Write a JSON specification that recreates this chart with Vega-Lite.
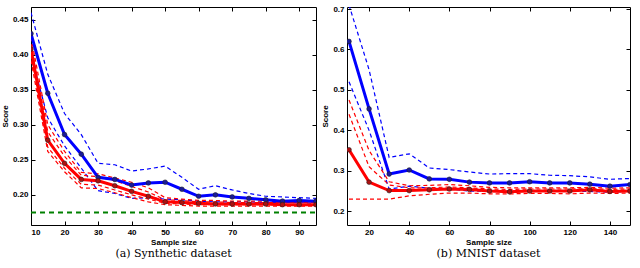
{
  "$schema": "https://vega.github.io/schema/vega-lite/v6.json",
  "padding": {"left": 0, "top": 4, "right": 6, "bottom": 0},
  "background": "white",
  "config": {
    "view": {"stroke": "black", "strokeWidth": 1},
    "axis": {"grid": false, "domain": false, "tickColor": "black", "tickSize": -4, "labelPadding": 7, "labelOverlap": false, "labelFont": "Liberation Sans", "labelFontWeight": "bold", "labelFontSize": 8, "labelColor": "black", "titleFont": "Liberation Sans", "titleFontWeight": "bold", "titleFontSize": 8, "titleColor": "black"},
    "title": {"font": "DejaVu Serif", "fontSize": 11, "fontWeight": "normal", "color": "black", "orient": "bottom", "offset": 2}
  },
  "datasets": {
    "syn": [
      {"s":"bm","x":10,"y":0.430},{"s":"bm","x":15,"y":0.345},{"s":"bm","x":20,"y":0.286},{"s":"bm","x":25,"y":0.258},{"s":"bm","x":30,"y":0.225},{"s":"bm","x":35,"y":0.222},{"s":"bm","x":40,"y":0.214},{"s":"bm","x":45,"y":0.217},{"s":"bm","x":50,"y":0.218},{"s":"bm","x":55,"y":0.208},{"s":"bm","x":60,"y":0.198},{"s":"bm","x":65,"y":0.200},{"s":"bm","x":70,"y":0.197},{"s":"bm","x":75,"y":0.195},{"s":"bm","x":80,"y":0.193},{"s":"bm","x":85,"y":0.191},{"s":"bm","x":90,"y":0.192},{"s":"bm","x":95,"y":0.191},
      {"s":"bh","x":10,"y":0.460},{"s":"bh","x":15,"y":0.372},{"s":"bh","x":20,"y":0.316},{"s":"bh","x":25,"y":0.286},{"s":"bh","x":30,"y":0.245},{"s":"bh","x":35,"y":0.243},{"s":"bh","x":40,"y":0.234},{"s":"bh","x":45,"y":0.237},{"s":"bh","x":50,"y":0.241},{"s":"bh","x":55,"y":0.225},{"s":"bh","x":60,"y":0.208},{"s":"bh","x":65,"y":0.213},{"s":"bh","x":70,"y":0.207},{"s":"bh","x":75,"y":0.202},{"s":"bh","x":80,"y":0.198},{"s":"bh","x":85,"y":0.197},{"s":"bh","x":90,"y":0.196},{"s":"bh","x":95,"y":0.195},
      {"s":"bl","x":10,"y":0.400},{"s":"bl","x":15,"y":0.310},{"s":"bl","x":20,"y":0.270},{"s":"bl","x":25,"y":0.238},{"s":"bl","x":30,"y":0.206},{"s":"bl","x":35,"y":0.202},{"s":"bl","x":40,"y":0.195},{"s":"bl","x":45,"y":0.196},{"s":"bl","x":50,"y":0.194},{"s":"bl","x":55,"y":0.193},{"s":"bl","x":60,"y":0.191},{"s":"bl","x":65,"y":0.190},{"s":"bl","x":70,"y":0.190},{"s":"bl","x":75,"y":0.190},{"s":"bl","x":80,"y":0.189},{"s":"bl","x":85,"y":0.189},{"s":"bl","x":90,"y":0.189},{"s":"bl","x":95,"y":0.188},
      {"s":"rm","x":10,"y":0.408},{"s":"rm","x":15,"y":0.278},{"s":"rm","x":20,"y":0.245},{"s":"rm","x":25,"y":0.222},{"s":"rm","x":30,"y":0.220},{"s":"rm","x":35,"y":0.213},{"s":"rm","x":40,"y":0.205},{"s":"rm","x":45,"y":0.198},{"s":"rm","x":50,"y":0.190},{"s":"rm","x":55,"y":0.189},{"s":"rm","x":60,"y":0.188},{"s":"rm","x":65,"y":0.187},{"s":"rm","x":70,"y":0.187},{"s":"rm","x":75,"y":0.187},{"s":"rm","x":80,"y":0.187},{"s":"rm","x":85,"y":0.186},{"s":"rm","x":90,"y":0.186},{"s":"rm","x":95,"y":0.186},
      {"s":"rh","x":10,"y":0.425},{"s":"rh","x":15,"y":0.300},{"s":"rh","x":20,"y":0.262},{"s":"rh","x":25,"y":0.232},{"s":"rh","x":30,"y":0.230},{"s":"rh","x":35,"y":0.224},{"s":"rh","x":40,"y":0.218},{"s":"rh","x":45,"y":0.210},{"s":"rh","x":50,"y":0.196},{"s":"rh","x":55,"y":0.194},{"s":"rh","x":60,"y":0.192},{"s":"rh","x":65,"y":0.192},{"s":"rh","x":70,"y":0.191},{"s":"rh","x":75,"y":0.191},{"s":"rh","x":80,"y":0.191},{"s":"rh","x":85,"y":0.190},{"s":"rh","x":90,"y":0.190},{"s":"rh","x":95,"y":0.190},
      {"s":"rh2","x":10,"y":0.415},{"s":"rh2","x":15,"y":0.290},{"s":"rh2","x":20,"y":0.255},{"s":"rh2","x":25,"y":0.228},{"s":"rh2","x":30,"y":0.226},{"s":"rh2","x":35,"y":0.220},{"s":"rh2","x":40,"y":0.212},{"s":"rh2","x":45,"y":0.204},{"s":"rh2","x":50,"y":0.193},{"s":"rh2","x":55,"y":0.192},{"s":"rh2","x":60,"y":0.190},{"s":"rh2","x":65,"y":0.190},{"s":"rh2","x":70,"y":0.189},{"s":"rh2","x":75,"y":0.189},{"s":"rh2","x":80,"y":0.189},{"s":"rh2","x":85,"y":0.189},{"s":"rh2","x":90,"y":0.189},{"s":"rh2","x":95,"y":0.189},
      {"s":"rl","x":10,"y":0.392},{"s":"rl","x":15,"y":0.262},{"s":"rl","x":20,"y":0.233},{"s":"rl","x":25,"y":0.210},{"s":"rl","x":30,"y":0.209},{"s":"rl","x":35,"y":0.203},{"s":"rl","x":40,"y":0.196},{"s":"rl","x":45,"y":0.190},{"s":"rl","x":50,"y":0.186},{"s":"rl","x":55,"y":0.185},{"s":"rl","x":60,"y":0.184},{"s":"rl","x":65,"y":0.184},{"s":"rl","x":70,"y":0.184},{"s":"rl","x":75,"y":0.184},{"s":"rl","x":80,"y":0.184},{"s":"rl","x":85,"y":0.184},{"s":"rl","x":90,"y":0.184},{"s":"rl","x":95,"y":0.184},
      {"s":"rl2","x":10,"y":0.400},{"s":"rl2","x":15,"y":0.268},{"s":"rl2","x":20,"y":0.238},{"s":"rl2","x":25,"y":0.215},{"s":"rl2","x":30,"y":0.214},{"s":"rl2","x":35,"y":0.207},{"s":"rl2","x":40,"y":0.200},{"s":"rl2","x":45,"y":0.194},{"s":"rl2","x":50,"y":0.188},{"s":"rl2","x":55,"y":0.187},{"s":"rl2","x":60,"y":0.186},{"s":"rl2","x":65,"y":0.186},{"s":"rl2","x":70,"y":0.186},{"s":"rl2","x":75,"y":0.186},{"s":"rl2","x":80,"y":0.186},{"s":"rl2","x":85,"y":0.186},{"s":"rl2","x":90,"y":0.186},{"s":"rl2","x":95,"y":0.186},
      {"s":"g","x":10,"y":0.175},{"s":"g","x":95,"y":0.175}
    ],
    "mnist": [
      {"s":"bm","x":10,"y":0.620},{"s":"bm","x":20,"y":0.453},{"s":"bm","x":30,"y":0.292},{"s":"bm","x":40,"y":0.302},{"s":"bm","x":50,"y":0.280},{"s":"bm","x":60,"y":0.279},{"s":"bm","x":70,"y":0.272},{"s":"bm","x":80,"y":0.270},{"s":"bm","x":90,"y":0.270},{"s":"bm","x":100,"y":0.273},{"s":"bm","x":110,"y":0.270},{"s":"bm","x":120,"y":0.270},{"s":"bm","x":130,"y":0.267},{"s":"bm","x":140,"y":0.262},{"s":"bm","x":150,"y":0.266},
      {"s":"bh","x":10,"y":0.710},{"s":"bh","x":20,"y":0.550},{"s":"bh","x":30,"y":0.333},{"s":"bh","x":40,"y":0.342},{"s":"bh","x":50,"y":0.307},{"s":"bh","x":60,"y":0.303},{"s":"bh","x":70,"y":0.297},{"s":"bh","x":80,"y":0.292},{"s":"bh","x":90,"y":0.293},{"s":"bh","x":100,"y":0.293},{"s":"bh","x":110,"y":0.289},{"s":"bh","x":120,"y":0.288},{"s":"bh","x":130,"y":0.285},{"s":"bh","x":140,"y":0.279},{"s":"bh","x":150,"y":0.281},
      {"s":"bl","x":10,"y":0.520},{"s":"bl","x":20,"y":0.400},{"s":"bl","x":30,"y":0.255},{"s":"bl","x":40,"y":0.262},{"s":"bl","x":50,"y":0.257},{"s":"bl","x":60,"y":0.255},{"s":"bl","x":70,"y":0.250},{"s":"bl","x":80,"y":0.250},{"s":"bl","x":90,"y":0.249},{"s":"bl","x":100,"y":0.250},{"s":"bl","x":110,"y":0.249},{"s":"bl","x":120,"y":0.250},{"s":"bl","x":130,"y":0.249},{"s":"bl","x":140,"y":0.247},{"s":"bl","x":150,"y":0.250},
      {"s":"rm","x":10,"y":0.352},{"s":"rm","x":20,"y":0.272},{"s":"rm","x":30,"y":0.251},{"s":"rm","x":40,"y":0.251},{"s":"rm","x":50,"y":0.253},{"s":"rm","x":60,"y":0.255},{"s":"rm","x":70,"y":0.254},{"s":"rm","x":80,"y":0.250},{"s":"rm","x":90,"y":0.248},{"s":"rm","x":100,"y":0.250},{"s":"rm","x":110,"y":0.250},{"s":"rm","x":120,"y":0.250},{"s":"rm","x":130,"y":0.253},{"s":"rm","x":140,"y":0.249},{"s":"rm","x":150,"y":0.250},
      {"s":"rh","x":10,"y":0.475},{"s":"rh","x":20,"y":0.350},{"s":"rh","x":30,"y":0.273},{"s":"rh","x":40,"y":0.263},{"s":"rh","x":50,"y":0.264},{"s":"rh","x":60,"y":0.266},{"s":"rh","x":70,"y":0.263},{"s":"rh","x":80,"y":0.259},{"s":"rh","x":90,"y":0.258},{"s":"rh","x":100,"y":0.258},{"s":"rh","x":110,"y":0.258},{"s":"rh","x":120,"y":0.258},{"s":"rh","x":130,"y":0.259},{"s":"rh","x":140,"y":0.257},{"s":"rh","x":150,"y":0.258},
      {"s":"rh2","x":10,"y":0.440},{"s":"rh2","x":20,"y":0.310},{"s":"rh2","x":30,"y":0.265},{"s":"rh2","x":40,"y":0.258},{"s":"rh2","x":50,"y":0.258},{"s":"rh2","x":60,"y":0.260},{"s":"rh2","x":70,"y":0.258},{"s":"rh2","x":80,"y":0.255},{"s":"rh2","x":90,"y":0.254},{"s":"rh2","x":100,"y":0.255},{"s":"rh2","x":110,"y":0.255},{"s":"rh2","x":120,"y":0.255},{"s":"rh2","x":130,"y":0.256},{"s":"rh2","x":140,"y":0.254},{"s":"rh2","x":150,"y":0.255},
      {"s":"rl","x":10,"y":0.230},{"s":"rl","x":20,"y":0.230},{"s":"rl","x":30,"y":0.230},{"s":"rl","x":40,"y":0.238},{"s":"rl","x":50,"y":0.242},{"s":"rl","x":60,"y":0.245},{"s":"rl","x":70,"y":0.245},{"s":"rl","x":80,"y":0.243},{"s":"rl","x":90,"y":0.243},{"s":"rl","x":100,"y":0.244},{"s":"rl","x":110,"y":0.244},{"s":"rl","x":120,"y":0.243},{"s":"rl","x":130,"y":0.245},{"s":"rl","x":140,"y":0.244},{"s":"rl","x":150,"y":0.245}
    ]
  },
  "hconcat": [
    {
      "width": 285,
      "height": 218,
      "title": {"text": "(a) Synthetic dataset"},
      "data": {"name": "syn"},
      "resolve": {"axis": {"x": "independent", "y": "independent"}},
      "layer": [
        {
          "transform": [{"filter": "datum.s != 'bm' && datum.s != 'rm' && datum.s != 'g'"}],
          "mark": {"type": "line", "strokeWidth": 1.2, "strokeDash": [4, 3], "clip": true},
          "encoding": {
            "x": {"field": "x", "type": "quantitative", "scale": {"domain": [10, 95], "nice": false, "zero": false}, "axis": {"orient": "bottom", "title": "Sample size", "values": [10,20,30,40,50,60,70,80,90], "titlePadding": 2}},
            "y": {"field": "y", "type": "quantitative", "scale": {"domain": [0.157, 0.468], "nice": false, "zero": false}, "axis": {"orient": "left", "title": "Score", "values": [0.2,0.25,0.3,0.35,0.4,0.45], "format": ".2f", "titlePadding": 3}},
            "detail": {"field": "s"},
            "color": {"field": "s", "type": "nominal", "legend": null, "scale": {"domain": ["bm","bh","bl","rm","rh","rh2","rl","rl2","g"], "range": ["#0000ff","#0000ff","#0000ff","#ff0000","#ff0000","#ff0000","#ff0000","#ff0000","#008000"]}}
          }
        },
        {
          "transform": [{"filter": "datum.s == 'g'"}],
          "mark": {"type": "line", "strokeWidth": 2, "strokeDash": [5, 4], "clip": true},
          "encoding": {
            "x": {"field": "x", "type": "quantitative", "axis": {"orient": "top", "labels": false, "title": null, "values": [10,20,30,40,50,60,70,80,90]}},
            "y": {"field": "y", "type": "quantitative", "axis": {"orient": "right", "labels": false, "title": null, "values": [0.2,0.25,0.3,0.35,0.4,0.45]}},
            "color": {"field": "s", "type": "nominal", "legend": null}
          }
        },
        {
          "transform": [{"filter": "datum.s == 'bm' || datum.s == 'rm'"}],
          "mark": {"type": "line", "strokeWidth": 3, "clip": true},
          "encoding": {
            "x": {"field": "x", "type": "quantitative", "axis": null},
            "y": {"field": "y", "type": "quantitative", "axis": null},
            "color": {"field": "s", "type": "nominal", "legend": null}
          }
        },
        {
          "transform": [{"filter": "datum.s == 'bm' || datum.s == 'rm'"}],
          "mark": {"type": "circle", "size": 22, "stroke": "#222222", "strokeWidth": 0.6, "opacity": 1, "clip": true},
          "encoding": {
            "x": {"field": "x", "type": "quantitative", "axis": null},
            "y": {"field": "y", "type": "quantitative", "axis": null},
            "fill": {"field": "s", "type": "nominal", "legend": null, "scale": {"domain": ["bm","rm"], "range": ["#1a1a9a","#b01010"]}}
          }
        }
      ]
    },
    {
      "width": 283,
      "height": 218,
      "title": {"text": "(b) MNIST dataset"},
      "data": {"name": "mnist"},
      "resolve": {"axis": {"x": "independent", "y": "independent"}},
      "layer": [
        {
          "transform": [{"filter": "datum.s != 'bm' && datum.s != 'rm'"}],
          "mark": {"type": "line", "strokeWidth": 1.2, "strokeDash": [4, 3], "clip": true},
          "encoding": {
            "x": {"field": "x", "type": "quantitative", "scale": {"domain": [9, 150], "nice": false, "zero": false}, "axis": {"orient": "bottom", "title": "Sample size", "values": [20,40,60,80,100,120,140], "titlePadding": 2}},
            "y": {"field": "y", "type": "quantitative", "scale": {"domain": [0.166, 0.705], "nice": false, "zero": false}, "axis": {"orient": "left", "title": "Score", "values": [0.2,0.3,0.4,0.5,0.6,0.7], "format": ".1f", "titlePadding": 3}},
            "detail": {"field": "s"},
            "color": {"field": "s", "type": "nominal", "legend": null, "scale": {"domain": ["bm","bh","bl","rm","rh","rh2","rl"], "range": ["#0000ff","#0000ff","#0000ff","#ff0000","#ff0000","#ff0000","#ff0000"]}}
          }
        },
        {
          "transform": [{"filter": "datum.s == 'bm' || datum.s == 'rm'"}],
          "mark": {"type": "line", "strokeWidth": 3, "clip": true},
          "encoding": {
            "x": {"field": "x", "type": "quantitative", "axis": {"orient": "top", "labels": false, "title": null, "values": [20,40,60,80,100,120,140]}},
            "y": {"field": "y", "type": "quantitative", "axis": {"orient": "right", "labels": false, "title": null, "values": [0.2,0.3,0.4,0.5,0.6,0.7]}},
            "color": {"field": "s", "type": "nominal", "legend": null}
          }
        },
        {
          "transform": [{"filter": "datum.s == 'bm' || datum.s == 'rm'"}],
          "mark": {"type": "circle", "size": 22, "stroke": "#222222", "strokeWidth": 0.6, "opacity": 1, "clip": true},
          "encoding": {
            "x": {"field": "x", "type": "quantitative", "axis": null},
            "y": {"field": "y", "type": "quantitative", "axis": null},
            "fill": {"field": "s", "type": "nominal", "legend": null, "scale": {"domain": ["bm","rm"], "range": ["#1a1a9a","#b01010"]}}
          }
        }
      ]
    }
  ],
  "spacing": 4
}
